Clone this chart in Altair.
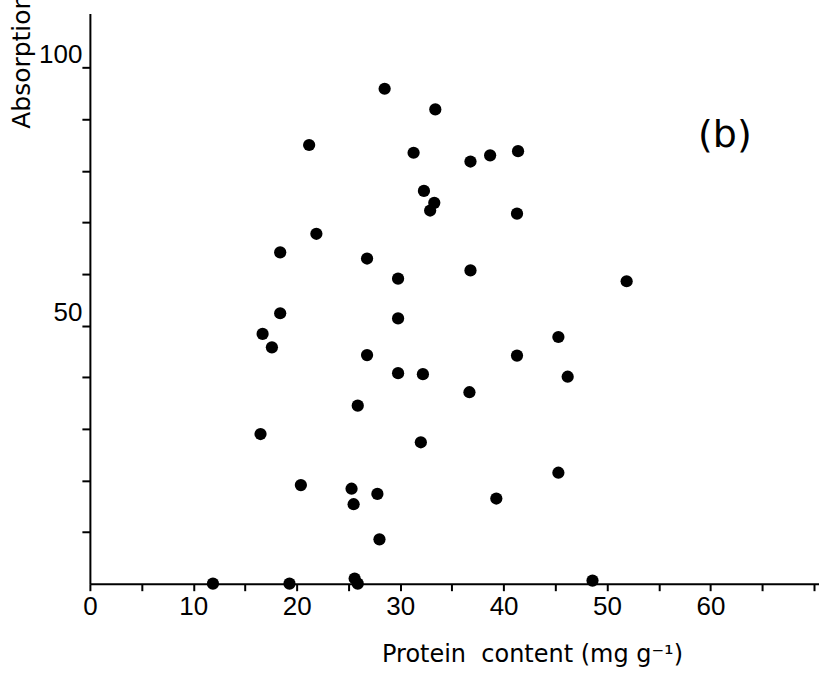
import altair as alt
import pandas as pd

# Protein content (mg g^-1) and absorption values
protein = [28.5, 21.2, 21.9, 33.4, 31.3, 36.8, 38.7, 41.4,
           32.3, 33.3, 32.9, 41.3,
           18.4, 26.8, 29.8, 18.4, 16.7, 17.6, 29.8, 26.8, 29.8, 25.9,
           36.8, 51.9, 45.3, 41.3, 32.2, 46.2, 36.7,
           16.5, 20.4, 25.3, 25.5, 27.8, 28.0,
           11.9, 19.3, 25.6, 25.9,
           32.0, 45.3, 39.3, 48.6]
absorption = [95.9, 85.0, 67.8, 91.9, 83.5, 81.8, 83.0, 83.8,
              76.1, 73.8, 72.3, 71.7,
              64.2, 63.0, 59.1, 52.4, 48.4, 45.8, 51.4, 44.3, 40.8, 34.5,
              60.7, 58.6, 47.8, 44.2, 40.6, 40.1, 37.1,
              29.0, 19.1, 18.4, 15.4, 17.4, 8.6,
              0.0, 0.0, 1.0, 0.0,
              27.4, 21.5, 16.5, 0.6]

panel_label = ["(b)"]
panel_x = [61.4]
panel_y = [86.8]

x_ticks = [0, 5, 10, 15, 20, 25, 30, 35, 40, 45, 50, 55, 60, 65, 70]
y_ticks = [10, 20, 30, 40, 50, 60, 70, 80, 90, 100]

df = pd.DataFrame({"protein": protein, "absorption": absorption})
lab = pd.DataFrame({"label": panel_label, "x": panel_x, "y": panel_y})

xscale = alt.Scale(domain=[0, 70.5], nice=False, zero=False)
yscale = alt.Scale(domain=[0, 110.5], nice=False, zero=False)

xaxis = alt.Axis(
    values=x_ticks,
    labelExpr="datum.value % 10 == 0 && datum.value <= 60 ? datum.label : ''",
    grid=False, domainColor="black", domainWidth=2,
    tickColor="black", tickWidth=2, tickSize=7,
    labelFont="Liberation Sans", labelFontSize=26, labelColor="black",
    labelPadding=3, labelFlush=False,
    title="Protein\u00a0\u00a0content (mg g⁻¹)",
    titleFont="DejaVu Sans", titleFontSize=24, titleFontWeight="normal",
    titleColor="black", titleAnchor="start", titleAlign="left",
    titleX=292, titleY=78, titleBaseline="alphabetic",
)
yaxis = alt.Axis(
    values=y_ticks,
    labelExpr="datum.value == 50 || datum.value == 100 ? datum.label : ''",
    grid=False, domainColor="black", domainWidth=2,
    tickColor="black", tickWidth=2, tickSize=8,
    labelFont="Liberation Sans", labelFontSize=26, labelColor="black",
    labelPadding=0, labelBaseline="alphabetic", labelOffset=-5,
    labelFlush=False,
    title="Absorption",
    titleFont="DejaVu Sans", titleFontSize=25, titleFontWeight="normal",
    titleColor="black", titleAngle=-90, titleAlign="left",
    titleBaseline="alphabetic", titleX=-60, titleY=115,
)

points = alt.Chart(df).mark_circle(size=150, color="black", opacity=1).encode(
    x=alt.X("protein:Q", scale=xscale, axis=xaxis),
    y=alt.Y("absorption:Q", scale=yscale, axis=yaxis),
)

text = alt.Chart(lab).mark_text(
    font="DejaVu Sans", fontSize=38, color="black", align="center", baseline="middle"
).encode(
    x=alt.X("x:Q", scale=xscale),
    y=alt.Y("y:Q", scale=yscale),
    text="label:N",
)

chart = (points + text).properties(
    width=730, height=571,
    padding={"left": 90, "top": 13, "right": 0, "bottom": 90},
    autosize=alt.AutoSizeParams(type="none"),
    background="white",
).configure_view(stroke=None)

chart.save("out.html", embed_options={"renderer": "svg", "actions": False})
